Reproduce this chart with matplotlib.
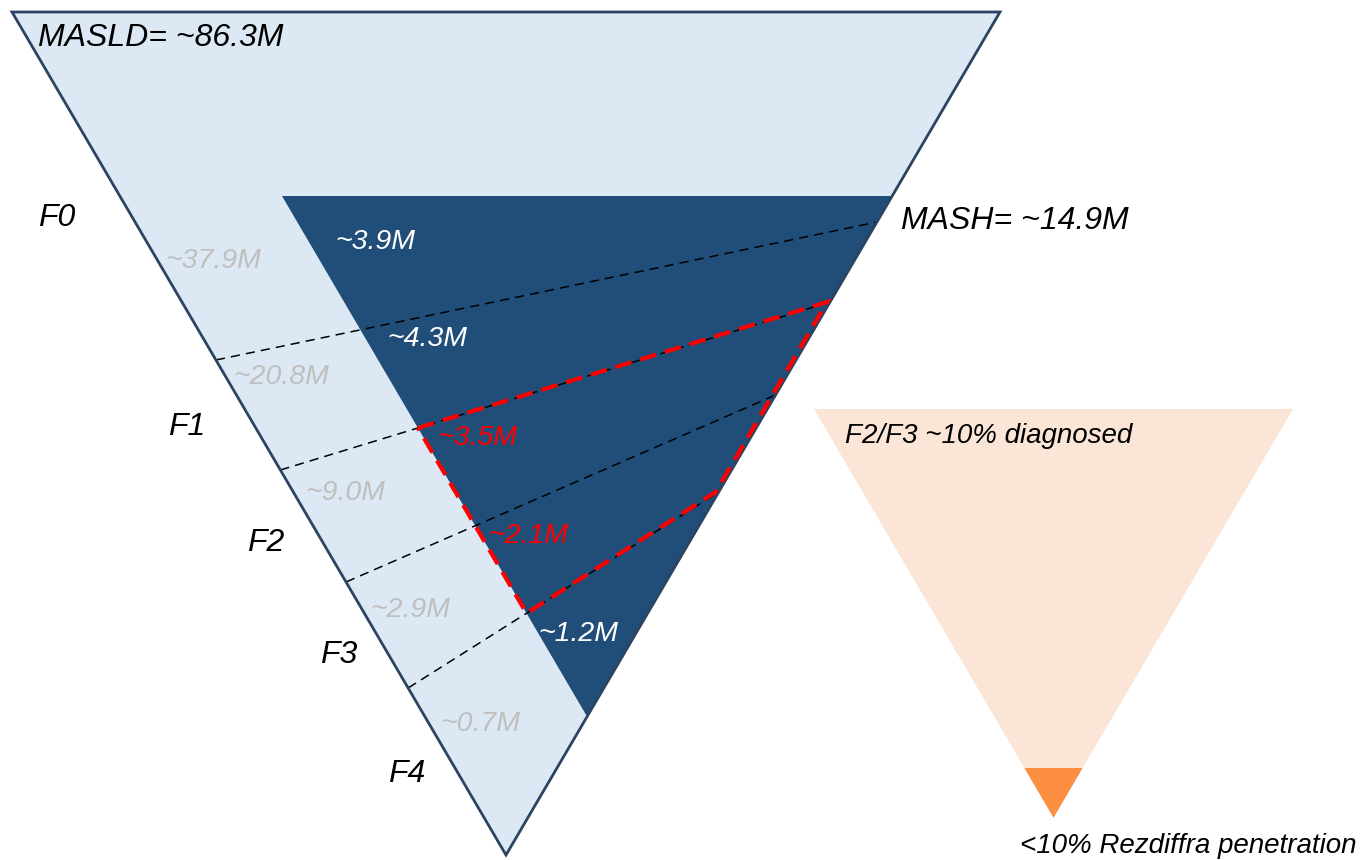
import numpy as np
import matplotlib.pyplot as plt
from matplotlib.patches import Polygon

# Population estimates (millions)
stages = ["F0", "F1", "F2", "F3", "F4"]
masld_only = ["~37.9M", "~20.8M", "~9.0M", "~2.9M", "~0.7M"]
mash_by_stage = ["~3.9M", "~4.3M", "~3.5M", "~2.1M", "~1.2M"]
masld_total = "~86.3M"
mash_total = "~14.9M"
diagnosed_note = "F2/F3 ~10% diagnosed"
penetration_note = "<10% Rezdiffra penetration"
highlight_stages = ["F2", "F3"]

# Layout (pixel space, y grows downward)
TOP, APEX_Y = 12, 855
LEFT_X, RIGHT_X = 12, 1000
K = (RIGHT_X - LEFT_X) / 2 / (APEX_Y - TOP)
MASH_TOP, MASH_LEFT = 196, 282
# stage boundaries: (y on left edge, y on right edge)
boundaries = [(360, 222), (470, 302), (582, 395), (688, 492)]

LIGHT = "#dde8f5"
DARK = "#204e78"
EDGE = "#2b4461"
GREY = "#bfbfbf"
PEACH = "#fbe5d6"
ORANGE = "#fd8f42"

plt.rcParams["font.family"] = ["Liberation Sans", "DejaVu Sans"]
plt.rcParams["font.style"] = "italic"


def left_x(y):
    return LEFT_X + K * (y - TOP)


def right_x(y):
    return RIGHT_X - K * (y - TOP)


def mash_left_x(y):
    return MASH_LEFT + K * (y - MASH_TOP)


def cross_mash_left(b):
    # where a boundary line meets the left side of the MASH wedge
    yl, yr = b
    x1, x2 = left_x(yl), right_x(yr)
    t = np.linspace(0, 1, 20001)
    xs = x1 + (x2 - x1) * t
    ys = yl + (yr - yl) * t
    i = np.argmin(np.abs(xs - mash_left_x(ys)))
    return xs[i], ys[i]


fig = plt.figure(figsize=(13.61, 8.6), dpi=100)
ax = fig.add_axes([0, 0, 1, 1])
ax.set_xlim(0, 1361)
ax.set_ylim(860, 0)
ax.axis("off")

apex_x = (LEFT_X + RIGHT_X) / 2
big = [(LEFT_X, TOP), (RIGHT_X, TOP), (apex_x, APEX_Y)]
ax.add_patch(Polygon(big, closed=True, facecolor=LIGHT, edgecolor="none", zorder=1))

# MASH wedge: right side shares the outer edge
mash_bottom_y = (RIGHT_X - MASH_LEFT + K * MASH_TOP + K * TOP) / (2 * K)
mash = [(MASH_LEFT, MASH_TOP), (right_x(MASH_TOP), MASH_TOP),
        (right_x(mash_bottom_y), mash_bottom_y)]
ax.add_patch(Polygon(mash, closed=True, facecolor=DARK, edgecolor="none", zorder=2))

for yl, yr in boundaries:
    ax.plot([left_x(yl), right_x(yr)], [yl, yr], color="black", lw=1.1,
            ls=(0, (6, 4)), zorder=3)

ax.add_patch(Polygon(big, closed=True, facecolor="none", edgecolor=EDGE,
                     lw=2, joinstyle="miter", zorder=4))

# F2/F3 MASH highlight
b_top, b_bot = boundaries[1], boundaries[3]
p1 = cross_mash_left(b_top)
p4 = cross_mash_left(b_bot)
inset = 3
red = [p1, (right_x(b_top[1]) - inset, b_top[1]), (right_x(b_bot[1]) - inset, b_bot[1]), p4]
ax.add_patch(Polygon(red, closed=True, facecolor="none", edgecolor="#ff0000",
                     lw=3, ls=(0, (4, 2.2)), zorder=5))

# diagnosis / treatment funnel
pt_l, pt_r, pt_top = 814, 1293, 409
p_apex = ((pt_l + pt_r) / 2, pt_top + (pt_r - pt_l) / 2 / K)
ax.add_patch(Polygon([(pt_l, pt_top), (pt_r, pt_top), p_apex], closed=True,
                     facecolor=PEACH, edgecolor="none", zorder=1))
small_top = 768
half = (p_apex[1] - small_top) * K
ax.add_patch(Polygon([(p_apex[0] - half, small_top), (p_apex[0] + half, small_top), p_apex],
                     closed=True, facecolor=ORANGE, edgecolor="none", zorder=2))

fs_label, fs_num, fs_note = 23, 20.5, 20
ax.text(38, 38, f"MASLD= {masld_total}", fontsize=fs_label, va="center", zorder=6)
ax.text(901, 221, f"MASH= {mash_total}", fontsize=fs_label, va="center", zorder=6)
ax.text(845, 436, diagnosed_note, fontsize=fs_note, va="center", zorder=6)
ax.text(1020, 846, penetration_note, fontsize=fs_note, va="center", zorder=6)

stage_pos = [(38, 218), (168, 427), (247, 543), (320, 655), (388, 774)]
masld_pos = [(165, 261), (233, 377), (305, 493), (370, 610), (440, 724)]
mash_pos = [(335, 242), (387, 339), (437, 438), (488, 536), (538, 634)]

for name, (x, y) in zip(stages, stage_pos):
    ax.text(x, y, name, fontsize=fs_label, va="center", zorder=6)
for val, (x, y) in zip(masld_only, masld_pos):
    ax.text(x, y, val, fontsize=fs_num, color=GREY, va="center", zorder=6)
for name, val, (x, y) in zip(stages, mash_by_stage, mash_pos):
    col = "#ff0000" if name in highlight_stages else "white"
    ax.text(x, y, val, fontsize=fs_num, color=col, va="center", zorder=6)

fig.savefig("out.png", dpi=100)
